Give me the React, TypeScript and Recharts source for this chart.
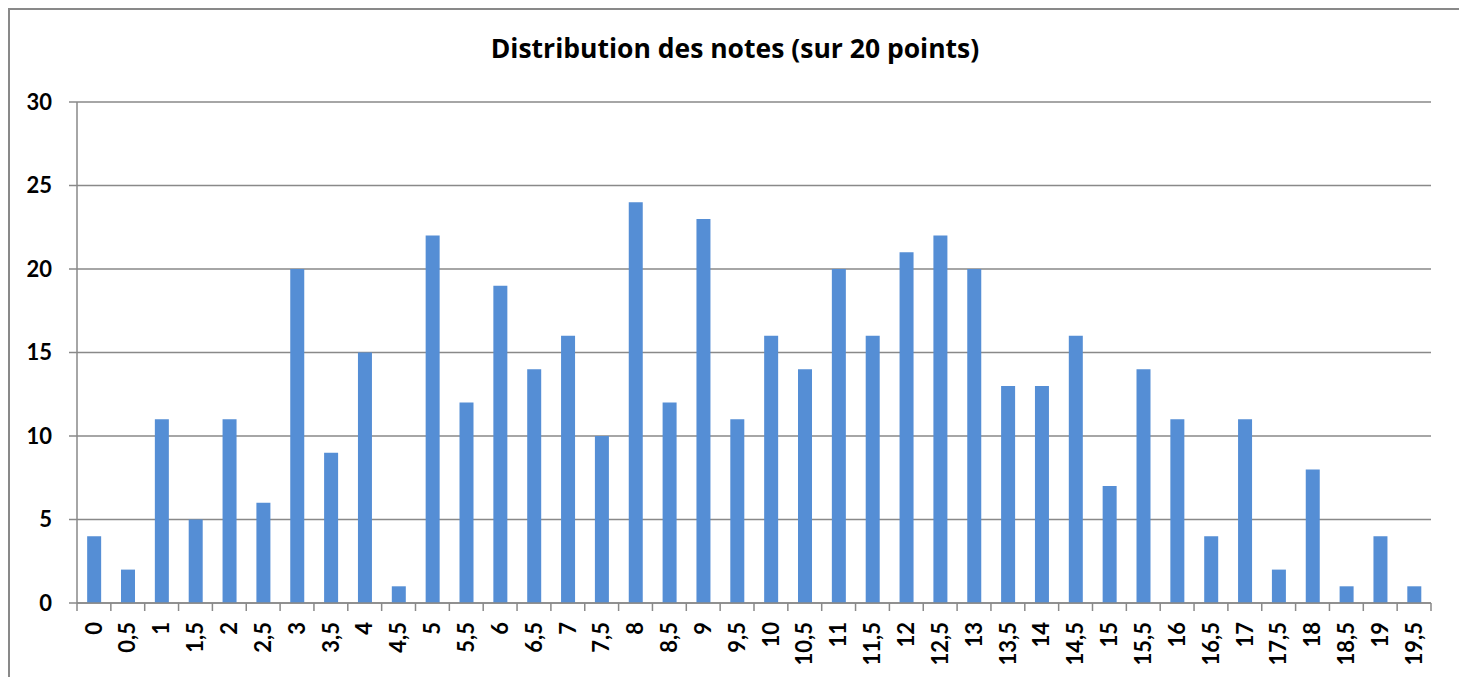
import React from "react";
import { BarChart, Bar, XAxis, YAxis, CartesianGrid } from "recharts";

const notes = [
  "0", "0,5", "1", "1,5", "2", "2,5", "3", "3,5", "4", "4,5",
  "5", "5,5", "6", "6,5", "7", "7,5", "8", "8,5", "9", "9,5",
  "10", "10,5", "11", "11,5", "12", "12,5", "13", "13,5", "14", "14,5",
  "15", "15,5", "16", "16,5", "17", "17,5", "18", "18,5", "19", "19,5",
];
const effectifs = [
  4, 2, 11, 5, 11, 6, 20, 9, 15, 1,
  22, 12, 19, 14, 16, 10, 24, 12, 23, 11,
  16, 14, 20, 16, 21, 22, 20, 13, 13, 16,
  7, 14, 11, 4, 11, 2, 8, 1, 4, 1,
];
const yTicks = [0, 5, 10, 15, 20, 25, 30];
const title = "Distribution des notes (sur 20 points)";

const data = notes.map((n, i) => ({ note: n, effectif: effectifs[i] }));

const W = 1450;
const H = 667;
const MARGIN = { top: 92, right: 29, bottom: 0, left: 0 };
const Y_W = 67;
const X_H = 74;
const PLOT_W = W - MARGIN.left - MARGIN.right - Y_W;
const BAND = PLOT_W / notes.length;
const GRAY = "#898989";
const FONT = "Lato, 'Open Sans', sans-serif";
const TITLE_FONT = "'Open Sans', Lato, sans-serif";

function XTick(props: any) {
  const { x, y, payload, index } = props;
  const half = BAND / 2;
  return (
    <g>
      <line x1={x - half} x2={x - half} y1={y} y2={y + 8} stroke={GRAY} strokeWidth={1.5} />
      {index === notes.length - 1 && (
        <line x1={x + half} x2={x + half} y1={y} y2={y + 8} stroke={GRAY} strokeWidth={1.5} />
      )}
      <text
        x={x - 19}
        y={y}
        dy="0.35em"
        transform={`rotate(-90, ${x}, ${y})`}
        textAnchor="end"
        fill="#000"
        fontSize={22}
        fontWeight={700}
        fontFamily={FONT}
      >
        {payload.value}
      </text>
    </g>
  );
}

export default function App() {
  return (
    <div
      style={{
        position: "relative",
        width: W,
        height: H + 10,
        borderTop: `2px solid ${GRAY}`,
        borderLeft: `2px solid ${GRAY}`,
        borderRight: `2px solid ${GRAY}`,
        background: "#fff",
      }}
    >
      <div
        style={{
          position: "absolute",
          top: 26,
          left: 0,
          width: W,
          textAlign: "center",
          fontFamily: TITLE_FONT,
          fontWeight: 700,
          fontSize: 26.5,
          lineHeight: "24px",
          color: "#000",
        }}
      >
        {title}
      </div>
      <BarChart width={W} height={H} data={data} margin={MARGIN} barCategoryGap="30%">
        <CartesianGrid vertical={false} stroke={GRAY} strokeWidth={1.5} />
        <XAxis
          dataKey="note"
          interval={0}
          height={X_H}
          tickSize={0}
          tickMargin={0}
          tickLine={false}
          axisLine={{ stroke: GRAY, strokeWidth: 1.5 }}
          tick={<XTick />}
        />
        <YAxis
          width={Y_W}
          domain={[0, 30]}
          ticks={yTicks}
          interval={0}
          tickSize={8}
          tickMargin={17}
          axisLine={{ stroke: GRAY, strokeWidth: 1.5 }}
          tickLine={{ stroke: GRAY, strokeWidth: 1.5 }}
          tick={{ fill: "#000", fontSize: 22, fontWeight: 700, fontFamily: FONT }}
        />
        <Bar dataKey="effectif" fill="#558ed5" isAnimationActive={false} />
      </BarChart>
    </div>
  );
}
